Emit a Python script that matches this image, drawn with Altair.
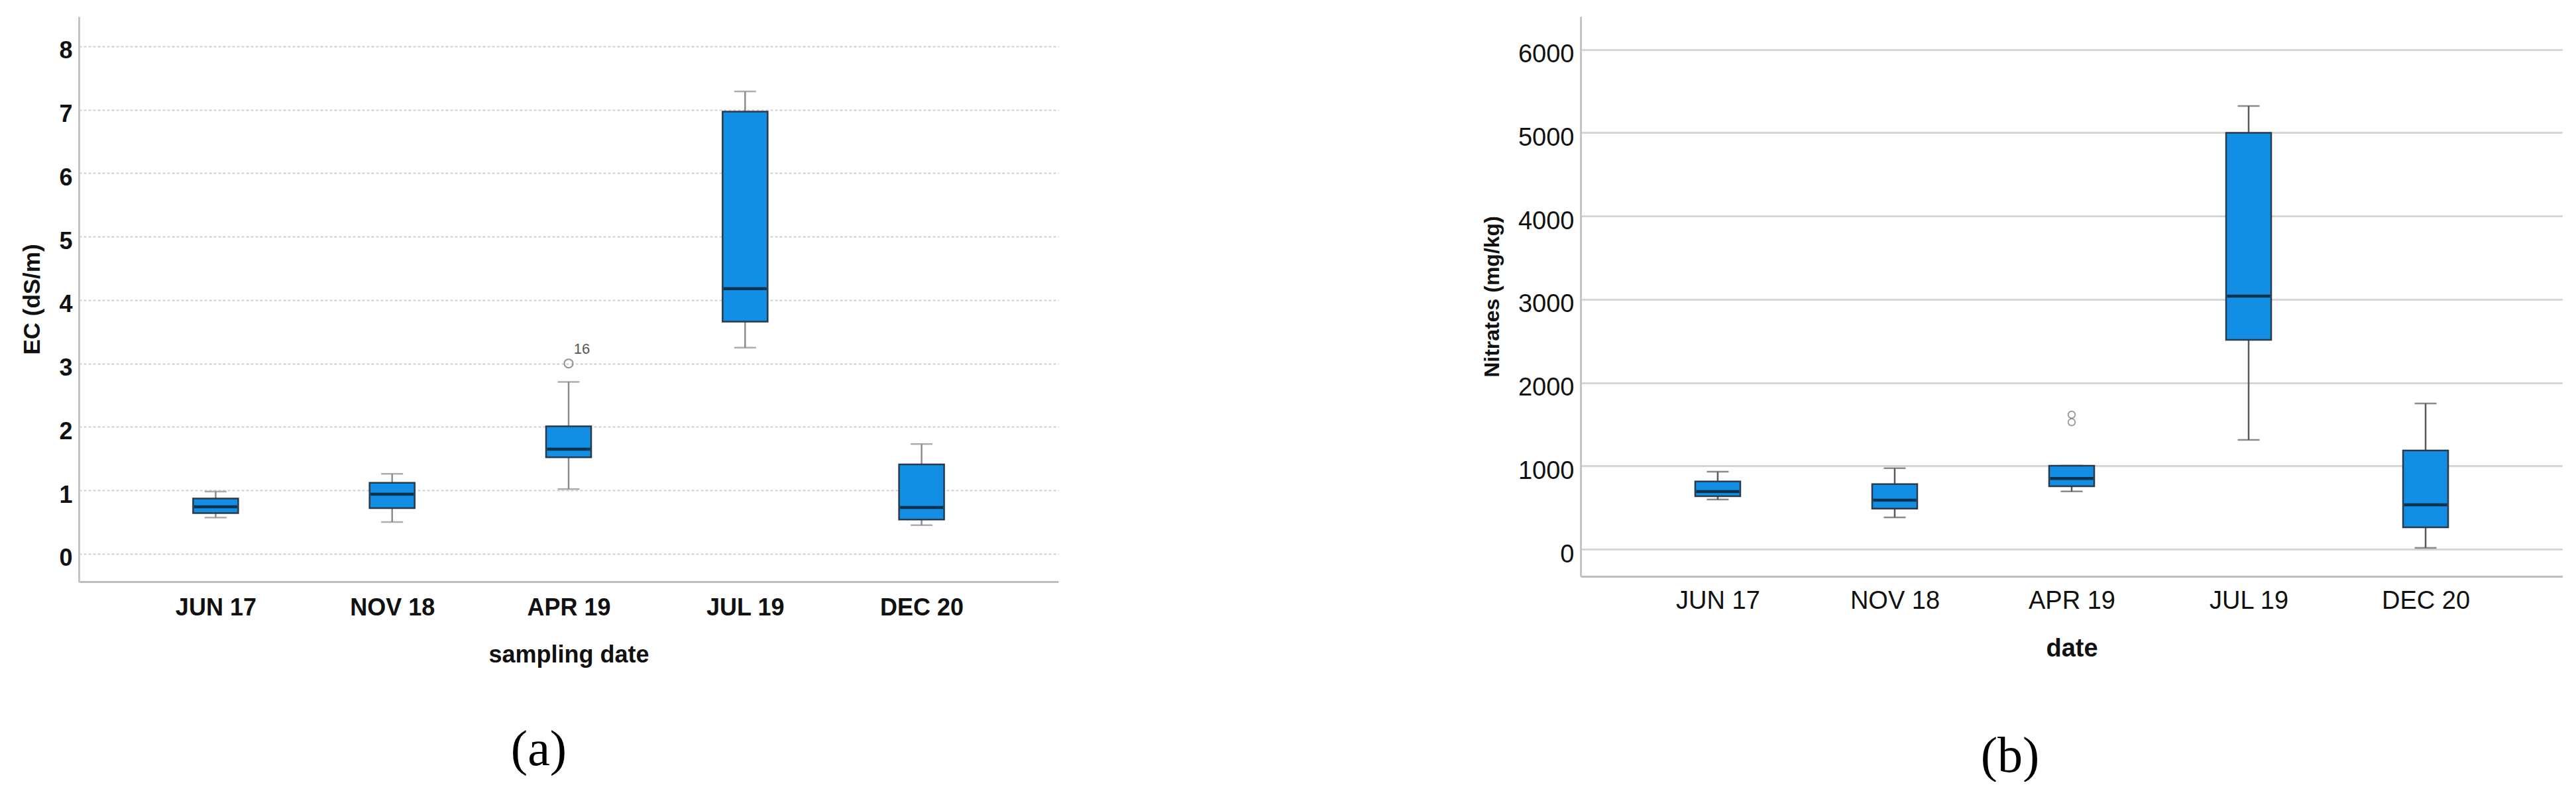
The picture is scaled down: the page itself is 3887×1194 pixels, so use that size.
import altair as alt
import pandas as pd

# ---------------- data ----------------
dates = ["JUN 17", "NOV 18", "APR 19", "JUL 19", "DEC 20"]

# Panel (a): EC (dS/m)
ec_low = [0.57, 0.50, 1.02, 3.25, 0.45]
ec_q1 = [0.64, 0.72, 1.52, 3.66, 0.54]
ec_med = [0.74, 0.94, 1.65, 4.18, 0.73]
ec_q3 = [0.87, 1.12, 2.01, 6.97, 1.41]
ec_high = [0.98, 1.26, 2.71, 7.29, 1.73]
ec_out_dates = ["APR 19"]
ec_out_vals = [3.0]
ec_out_labels = ["16"]
ec_ticks = [0, 1, 2, 3, 4, 5, 6, 7, 8]

# Panel (b): Nitrates (mg/kg)
no3_low = [597, 382, 694, 1313, 16]
no3_q1 = [636, 488, 756, 2514, 263]
no3_med = [692, 589, 849, 3039, 533]
no3_q3 = [814, 782, 1003, 5000, 1185]
no3_high = [930, 973, 1003, 5322, 1750]
no3_out_dates = ["APR 19", "APR 19"]
no3_out_vals = [1525, 1615]
no3_ticks = [0, 1000, 2000, 3000, 4000, 5000, 6000]

FONT = "Liberation Sans"
BOX_FILL = "#128ee5"
BOX_STROKE = "#2b3a4a"


def frame(low, q1, med, q3, high):
    return pd.DataFrame({"date": dates, "low": low, "q1": q1, "med": med,
                         "q3": q3, "high": high})


def panel(df, out_df, ydom, yticks, ytitle, xtitle, bold_labels, grid_dash,
          grid_color, grid_width, whisk_color, y_label_offset,
          label_size, label_pad, title_pad_x, sub, sub_dx, sub_offset,
          width, height, ytitle_size, xtitle_size, out_size, out_color):
    lw = "bold" if bold_labels else "normal"
    xaxis = alt.Axis(title=xtitle, labelAngle=0, ticks=False, tickSize=0,
                     labelFont=FONT, labelFontSize=label_size, labelFontWeight=lw,
                     labelColor="#111", labelPadding=label_pad,
                     titleFont=FONT, titleFontSize=xtitle_size, titleFontWeight="bold",
                     titleColor="#111", titlePadding=title_pad_x,
                     domainColor="#bdbdbd", domainWidth=3, grid=False)
    xenc = alt.X("date:N", sort=dates, title=xtitle,
                 scale=alt.Scale(type="point", padding=0.775), axis=xaxis)

    yaxis = alt.Axis(values=yticks, format="d", ticks=False, tickSize=0,
                     labelFont=FONT, labelFontSize=label_size, labelFontWeight=lw,
                     labelColor="#111", labelPadding=10, labelOffset=y_label_offset,
                     titleFont=FONT, titleFontSize=ytitle_size, titleFontWeight="bold",
                     titleColor="#111", titlePadding=22,
                     domainColor="#c4c4c4", domainWidth=3,
                     grid=True, gridColor=grid_color, gridWidth=grid_width,
                     gridDash=grid_dash)
    yscale = alt.Scale(domain=ydom, nice=False, zero=False)

    def Y(field):
        return alt.Y(f"{field}:Q", scale=yscale, title=ytitle, axis=yaxis)

    base = alt.Chart(df)
    whisk = base.mark_rule(color=whisk_color, strokeWidth=2.5).encode(
        x=xenc, y=Y("low"), y2="high:Q")
    cap_lo = base.mark_tick(color=whisk_color, size=33, thickness=2.5,
                            orient="horizontal").encode(x=xenc, y=Y("low"))
    cap_hi = base.mark_tick(color=whisk_color, size=33, thickness=2.5,
                            orient="horizontal").encode(x=xenc, y=Y("high"))
    box = base.mark_bar(size=68, color=BOX_FILL, stroke=BOX_STROKE,
                        strokeWidth=2.5).encode(x=xenc, y=Y("q1"), y2="q3:Q")
    med = base.mark_tick(color="#0a0a0a", size=65, thickness=4.5,
                         orient="horizontal").encode(x=xenc, y=Y("med"))
    outs = alt.Chart(out_df).mark_point(shape="circle", filled=False,
                                        color=out_color, strokeWidth=2,
                                        size=out_size).encode(
        x=xenc, y=Y("value"))
    layers = [whisk, cap_lo, cap_hi, box, med, outs]
    if "label" in out_df.columns:
        lab = alt.Chart(out_df).mark_text(font=FONT, fontSize=22, color="#555",
                                          dx=20, dy=-22).encode(
            x=xenc, y=Y("value"), text="label:N")
        layers.append(lab)

    return alt.layer(*layers).properties(
        width=width, height=height,
        title=alt.TitleParams(text=sub, orient="bottom", anchor="middle",
                              font="Liberation Serif", fontSize=76,
                              fontWeight="normal", color="#000",
                              baseline="top", dx=sub_dx, offset=sub_offset))


ec_df = frame(ec_low, ec_q1, ec_med, ec_q3, ec_high)
ec_out = pd.DataFrame({"date": ec_out_dates, "value": ec_out_vals,
                       "label": ec_out_labels})
no3_df = frame(no3_low, no3_q1, no3_med, no3_q3, no3_high)
no3_out = pd.DataFrame({"date": no3_out_dates, "value": no3_out_vals})

chart_a = panel(ec_df, ec_out, [-0.44, 8.47], ec_ticks, "EC (dS/m)",
                "sampling date", True, [4, 3], "#cfcfcf", 2, "#8c8c8c", 7,
                36, 22, 36, "(a)", -45, 89, 1478, 853, 35, 36, 170, "#666")
chart_b = panel(no3_df, no3_out, [-326, 6396], no3_ticks, "Nitrates (mg/kg)",
                "date", False, [1, 0], "#d6d6d6", 3, "#5a5a5a", 8,
                38, 18, 34, "(b)", -93, 107, 1482, 845, 32, 38, 110, "#777")

chart = alt.hconcat(chart_a, chart_b, spacing=638).properties(
    padding={"left": 23, "top": 17, "right": 0, "bottom": 0}
).configure(font=FONT).configure_view(stroke=None)

chart.save("out.html", embed_options={"renderer": "svg", "actions": False})
